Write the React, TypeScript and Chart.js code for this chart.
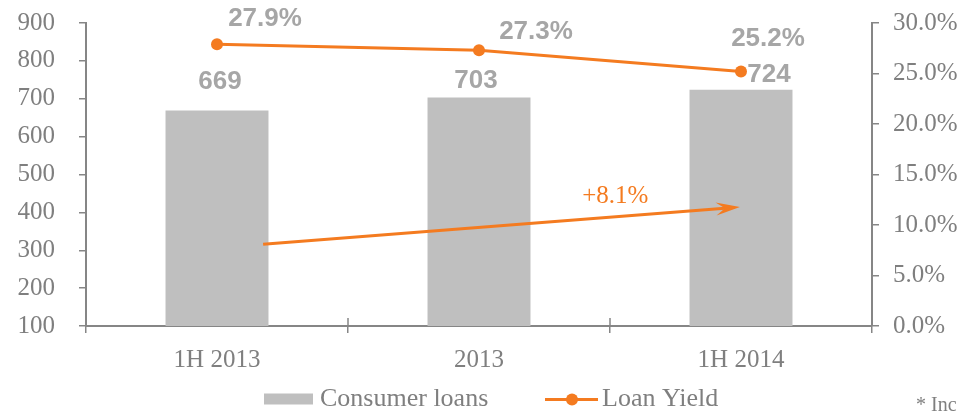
import React, { useEffect, useRef } from "react";
import { Chart, registerables } from "chart.js";

Chart.register(...registerables);

const categories = ["1H 2013", "2013", "1H 2014"];
const consumerLoans = [669, 703, 724];
const loanYield = [27.9, 27.3, 25.2];
const leftTicks = { min: 100, max: 900, step: 100 };
const rightTicks = { min: 0, max: 30, step: 5 };
const growthLabel = "+8.1%";
// arrow in data terms: [category index, left-axis value]
const arrowStart = [0.176, 316];
const arrowEnd = [1.996, 414];
const growthLabelPos = [1.52, 443];
const footnote = "* Inc";
const legendLabels = ["Consumer loans", "Loan Yield"];

// label offsets in px (relative to the mark)
const barLabelOffsets = [
  [3, -29],
  [-3, -17],
  [28, -15],
];
const lineLabelOffsets = [
  [48, -25.5],
  [57, -18],
  [27, -32.5],
];

const ORANGE = "#F47B20";
const BAR = "#BFBFBF";
const AXIS = "#868686";
const TEXT = "#7F7F7F";
const LABEL = "#A6A6A6";
const SERIF = "'Liberation Serif', 'Times New Roman', serif";
const SANS = "'Liberation Sans', Arial, sans-serif";

const overlayPlugin = {
  id: "overlay",
  afterDraw(chart: any) {
    const ctx = chart.ctx;
    const xs = chart.scales.x;
    const ys = chart.scales.y;
    const area = chart.chartArea;
    ctx.save();

    // x-axis ticks crossing above the axis
    ctx.strokeStyle = AXIS;
    ctx.lineWidth = 1.5;
    for (let i = 0; i <= categories.length; i++) {
      const px = xs.getPixelForValue(i - 0.5);
      ctx.beginPath();
      ctx.moveTo(px, area.bottom);
      ctx.lineTo(px, area.bottom - 8);
      ctx.stroke();
    }

    // value labels
    ctx.font = `bold 26px ${SANS}`;
    ctx.fillStyle = LABEL;
    ctx.textAlign = "center";
    ctx.textBaseline = "middle";
    const barMeta = chart.getDatasetMeta(0);
    barMeta.data.forEach((el: any, i: number) => {
      const [dx, dy] = barLabelOffsets[i];
      ctx.fillText(String(consumerLoans[i]), el.x + dx, el.y + dy);
    });
    const lineMeta = chart.getDatasetMeta(1);
    lineMeta.data.forEach((el: any, i: number) => {
      const [dx, dy] = lineLabelOffsets[i];
      ctx.fillText(loanYield[i].toFixed(1) + "%", el.x + dx, el.y + dy);
    });

    // growth arrow
    const x1 = xs.getPixelForValue(arrowStart[0]);
    const y1 = ys.getPixelForValue(arrowStart[1]);
    const x2 = xs.getPixelForValue(arrowEnd[0]);
    const y2 = ys.getPixelForValue(arrowEnd[1]);
    const ang = Math.atan2(y2 - y1, x2 - x1);
    const cos = Math.cos(ang);
    const sin = Math.sin(ang);
    ctx.strokeStyle = ORANGE;
    ctx.fillStyle = ORANGE;
    ctx.lineWidth = 3;
    ctx.beginPath();
    ctx.moveTo(x1, y1);
    ctx.lineTo(x2 - 12 * cos, y2 - 12 * sin);
    ctx.stroke();
    const head = 24;
    const wing = 6.5;
    const notch = 15;
    const bx = x2 - head * cos;
    const by = y2 - head * sin;
    const nx = -sin;
    const ny = cos;
    ctx.beginPath();
    ctx.moveTo(x2, y2);
    ctx.lineTo(bx + nx * wing, by + ny * wing);
    ctx.lineTo(x2 - notch * cos, y2 - notch * sin);
    ctx.lineTo(bx - nx * wing, by - ny * wing);
    ctx.closePath();
    ctx.fill();

    ctx.font = `25px ${SERIF}`;
    ctx.fillStyle = ORANGE;
    ctx.textAlign = "center";
    ctx.textBaseline = "middle";
    ctx.fillText(
      growthLabel,
      xs.getPixelForValue(growthLabelPos[0]),
      ys.getPixelForValue(growthLabelPos[1])
    );

    // legend
    const ly = 399.5;
    ctx.fillStyle = BAR;
    ctx.fillRect(264, ly - 6, 49, 11);
    ctx.font = `26px ${SERIF}`;
    ctx.fillStyle = TEXT;
    ctx.textAlign = "left";
    ctx.textBaseline = "middle";
    ctx.fillText(legendLabels[0], 320, ly);
    ctx.strokeStyle = ORANGE;
    ctx.lineWidth = 3;
    ctx.beginPath();
    ctx.moveTo(545, ly);
    ctx.lineTo(598, ly);
    ctx.stroke();
    ctx.fillStyle = ORANGE;
    ctx.beginPath();
    ctx.arc(572, ly, 6, 0, Math.PI * 2);
    ctx.fill();
    ctx.fillStyle = TEXT;
    ctx.fillText(legendLabels[1], 602, ly);

    // footnote
    ctx.font = `20px ${SERIF}`;
    ctx.textBaseline = "alphabetic";
    ctx.fillText(footnote, 916, 411);

    ctx.restore();
  },
};

const fitVertical = (width: number) => (s: any) => {
  s.width = width;
  s.paddingTop = 0;
  s.paddingBottom = 0;
};

export default function App() {
  const ref = useRef<HTMLCanvasElement>(null);
  useEffect(() => {
    if (!ref.current) return;
    const chart = new Chart(ref.current, {
      type: "bar",
      data: {
        labels: categories,
        datasets: [
          {
            type: "bar",
            label: legendLabels[0],
            data: consumerLoans,
            backgroundColor: BAR,
            yAxisID: "y",
            barPercentage: 0.393,
            categoryPercentage: 1,
            order: 2,
          },
          {
            type: "line",
            label: legendLabels[1],
            data: loanYield,
            borderColor: ORANGE,
            backgroundColor: ORANGE,
            borderWidth: 3,
            pointRadius: 6,
            pointBackgroundColor: ORANGE,
            pointBorderWidth: 0,
            tension: 0,
            yAxisID: "y1",
            order: 1,
          } as any,
        ],
      },
      options: {
        responsive: false,
        animation: false,
        layout: { padding: { top: 23, left: 0, right: 0, bottom: 0 } },
        plugins: { legend: { display: false }, tooltip: { enabled: false } },
        scales: {
          x: {
            offset: true,
            grid: {
              offset: true,
              drawOnChartArea: false,
              drawTicks: true,
              tickLength: 7,
              color: AXIS,
              lineWidth: 1.5,
            },
            border: { color: AXIS, width: 2 },
            ticks: {
              color: TEXT,
              font: { family: SERIF, size: 25 },
              padding: 12,
              maxRotation: 0,
            },
            afterFit: (s: any) => {
              s.height = 86;
              s.paddingLeft = 0;
              s.paddingRight = 0;
            },
          },
          y: {
            position: "left",
            min: leftTicks.min,
            max: leftTicks.max,
            ticks: {
              stepSize: leftTicks.step,
              color: TEXT,
              font: { family: SERIF, size: 25 },
              padding: 24,
            },
            grid: {
              drawOnChartArea: false,
              tickLength: 7,
              color: AXIS,
              lineWidth: 1.5,
            },
            border: { color: AXIS, width: 2 },
            afterFit: fitVertical(86),
          },
          y1: {
            position: "right",
            min: rightTicks.min,
            max: rightTicks.max,
            ticks: {
              stepSize: rightTicks.step,
              color: TEXT,
              font: { family: SERIF, size: 25 },
              padding: 14,
              callback: (v: any) => Number(v).toFixed(1) + "%",
            },
            grid: {
              drawOnChartArea: false,
              tickLength: 7,
              color: AXIS,
              lineWidth: 1.5,
            },
            border: { color: AXIS, width: 2 },
            afterFit: fitVertical(91),
          },
        },
      },
      plugins: [overlayPlugin],
    });
    return () => chart.destroy();
  }, []);
  return (
    <div style={{ position: "fixed", left: 0, top: 0, width: 963, height: 412, background: "#fff" }}>
      <canvas ref={ref} width={963} height={412} style={{ display: "block" }} />
    </div>
  );
}
